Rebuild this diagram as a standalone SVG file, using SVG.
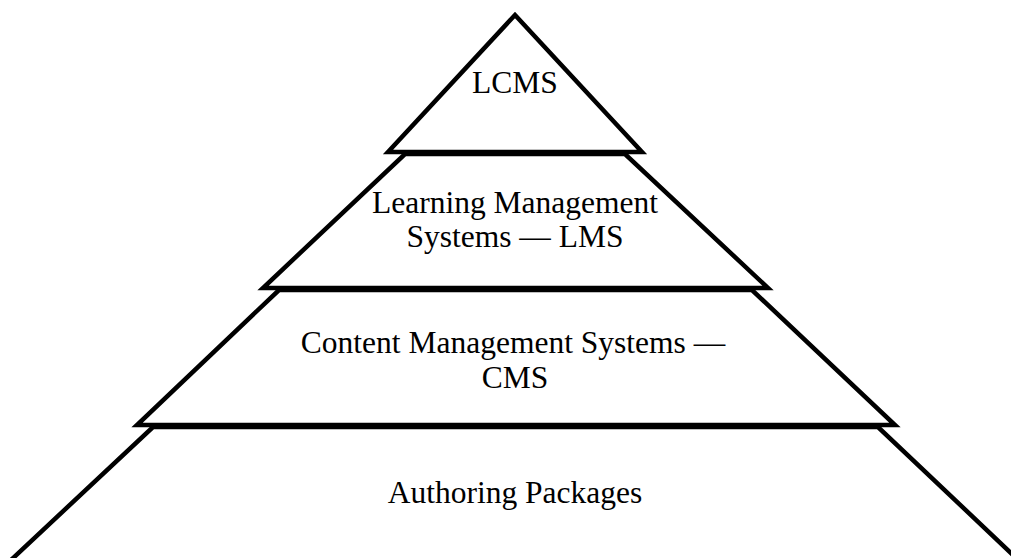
<svg xmlns="http://www.w3.org/2000/svg" width="1011" height="558" viewBox="0 0 1011 558">
<style>
.layer{fill:#fff;stroke:#000;stroke-width:4.5;stroke-linejoin:miter;stroke-miterlimit:10}
.lbl{font-family:"Liberation Serif","Times New Roman",serif;font-size:31.5px;fill:#000;text-anchor:middle}
</style>
<rect width="1011" height="558" fill="#fff"/>
<g id="layer-authoring">
<polygon class="layer" points="153,427 878,427 1050,590 -21,590"/>
<text class="lbl" x="515" y="503">Authoring Packages</text>
</g>
<g id="layer-cms">
<polygon class="layer" points="279,290 752,290 895,425 137,425"/>
<text class="lbl" x="513" y="353">Content Management Systems —</text>
<text class="lbl" x="515" y="388">CMS</text>
</g>
<g id="layer-lms">
<polygon class="layer" points="405,154 625,154 768,288 263,288"/>
<text class="lbl" x="515" y="213">Learning Management</text>
<text class="lbl" x="515" y="247">Systems — LMS</text>
</g>
<g id="layer-lcms">
<polygon class="layer" points="515,15 642,152 388,152"/>
<text class="lbl" x="515" y="93">LCMS</text>
</g>
<g id="connectors"></g>
</svg>
